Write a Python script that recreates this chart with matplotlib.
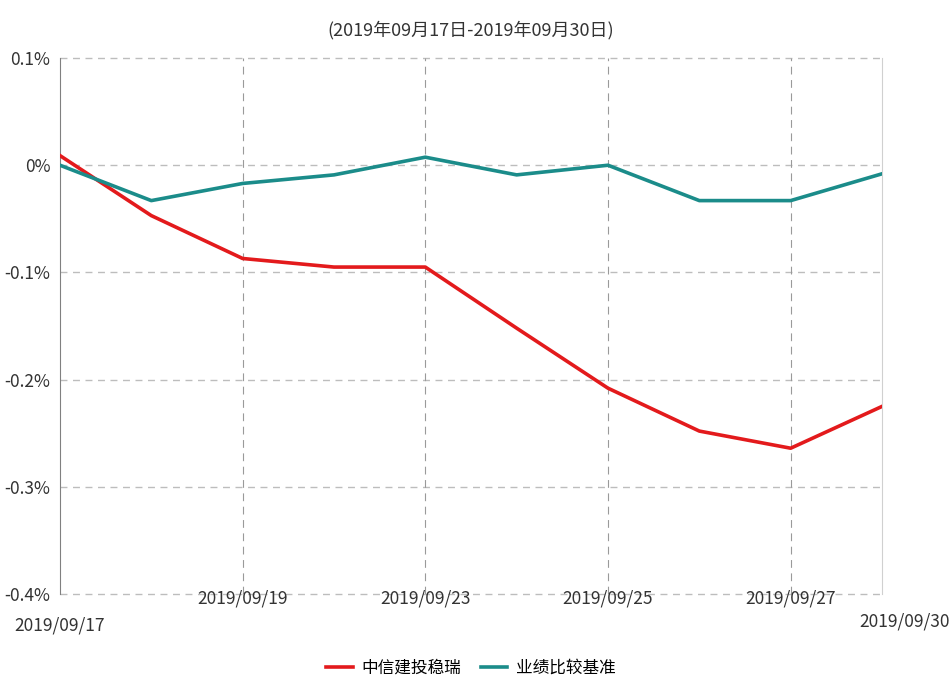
import matplotlib
matplotlib.use("Agg")
import matplotlib.pyplot as plt
import numpy as np

plt.rcParams['font.family'] = ['Noto Sans CJK SC', 'DejaVu Sans']

dates = ['2019/09/17', '2019/09/18', '2019/09/19', '2019/09/20', '2019/09/23',
         '2019/09/24', '2019/09/25', '2019/09/26', '2019/09/27', '2019/09/30']
fund = [0.009, -0.047, -0.087, -0.095, -0.095, -0.152, -0.208, -0.248, -0.264, -0.225]
bench = [0.0, -0.033, -0.017, -0.009, 0.0075, -0.009, 0.0, -0.033, -0.033, -0.008]
names = ['中信建投稳瑞', '业绩比较基准']
title = '(2019年09月17日-2019年09月30日)'
yticks = [0.1, 0.0, -0.1, -0.2, -0.3, -0.4]
ytick_labels = ['0.1%', '0%', '-0.1%', '-0.2%', '-0.3%', '-0.4%']
xtick_idx = [0, 2, 4, 6, 8, 9]

x = np.arange(len(dates))

fig = plt.figure(figsize=(9.49, 6.86), dpi=100)
ax = fig.add_axes([0.0632, 0.1341, 0.8662, 0.7813])

ax.plot(x, fund, color='#e31a1c', lw=2.6, label=names[0], zorder=3)
ax.plot(x, bench, color='#1b8c8a', lw=2.6, label=names[1], zorder=3)

ax.set_xlim(0, len(dates) - 1)
ax.set_ylim(-0.4, 0.1)

# horizontal grid
for yv in yticks:
    ax.axhline(yv, color='#bdbdbd', lw=1, ls=(0, (5, 4)), zorder=1, clip_on=False)
# vertical grid
for i in xtick_idx[1:-1]:
    ax.axvline(i, color='#9a9a9a', lw=0.8, ls=(0, (7, 5)), zorder=1)

ax.set_yticks(yticks)
ax.set_yticklabels(ytick_labels, fontsize=12.5, color='#333333')
ax.tick_params(axis='y', length=0, pad=7)
ax.set_xticks([])

for s in ['top', 'bottom']:
    ax.spines[s].set_visible(False)
ax.spines['left'].set_color('#808080')
ax.spines['right'].set_color('#d0d0d0')

# x labels, staggered like the source
trans = ax.get_xaxis_transform()
for i in xtick_idx:
    if i == 0:
        ax.text(i, -0.058, dates[i], transform=trans, ha='center', va='center', fontsize=12.5, color='#333333')
    elif i == len(dates) - 1:
        ax.text(i + 0.25, -0.052, dates[i], transform=trans, ha='center', va='center', fontsize=12.5, color='#333333', clip_on=False)
    else:
        ax.text(i, -0.008, dates[i], transform=trans, ha='center', va='center', fontsize=12.5, color='#333333')

fig.text(0.496, 0.956, title, ha='center', va='center', fontsize=13, color='#333333')

fig.legend(loc='center', bbox_to_anchor=(0.496, 0.026), ncol=2, frameon=False,
           fontsize=12, handlelength=1.6, columnspacing=1.2, handletextpad=0.5)

plt.savefig('out.png', dpi=100)
